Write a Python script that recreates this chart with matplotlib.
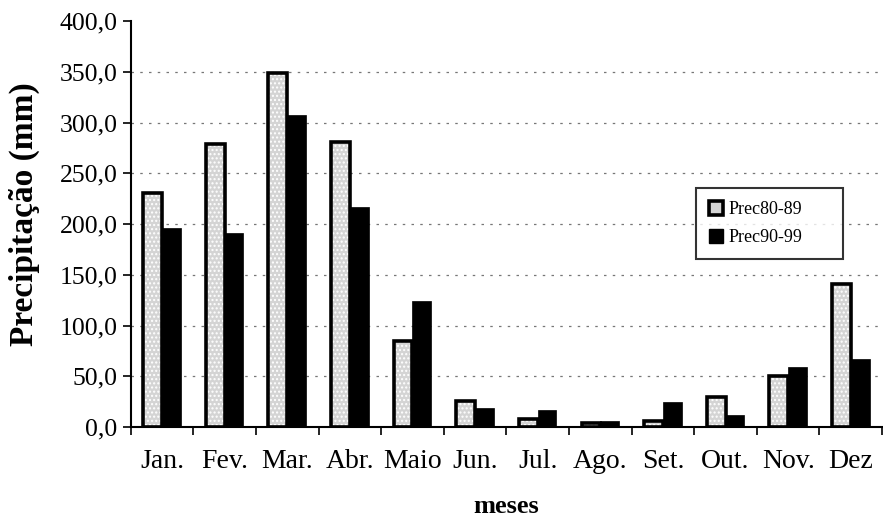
import numpy as np
import matplotlib.pyplot as plt
from matplotlib.patches import Patch

meses = ['Jan.', 'Fev.', 'Mar.', 'Abr.', 'Maio', 'Jun.', 'Jul.', 'Ago.', 'Set.', 'Out.', 'Nov.', 'Dez']
prec80_89 = [231, 279, 349, 281, 85, 26, 8, 4, 6, 30, 50, 141]
prec90_99 = [196, 191, 308, 217, 124, 19, 17, 6, 25, 12, 59, 67]
yticks = [0, 50, 100, 150, 200, 250, 300, 350, 400]

plt.rcParams['font.family'] = ['Liberation Serif', 'DejaVu Serif']
plt.rcParams['hatch.linewidth'] = 1.0

fig = plt.figure(figsize=(8.83, 5.17), dpi=100)
ax = fig.add_axes([0.148, 0.174, 0.851, 0.785])

x = np.arange(len(meses))
w = 0.3

# dotted grid
for v in yticks[1:-1]:
    ax.axhline(v, color='#777777', lw=0.9, ls=(0, (2, 5)), zorder=0)

# Prec80-89: speckled grey fill with thick black border
ax.bar(x - w / 2, prec80_89, w, color='#d4d4d4', edgecolor='white',
       hatch='....', linewidth=0, zorder=2)
ax.bar(x - w / 2, prec80_89, w, fill=False, edgecolor='black',
       linewidth=2.6, zorder=3)
# Prec90-99: solid black
ax.bar(x + w / 2, prec90_99, w, color='black', edgecolor='black',
       linewidth=0.5, zorder=3)

ax.set_xlim(-0.5, len(meses) - 0.5)
ax.set_ylim(0, 400)
ax.set_yticks(yticks)
ax.set_yticklabels([f'{v:.1f}'.replace('.', ',') for v in yticks], fontsize=18.5)

ax.set_xticks(np.arange(-0.5, len(meses), 1.0))
ax.set_xticklabels([])
ax.set_xticks(x, minor=True)
ax.set_xticklabels(meses, minor=True, fontsize=20)
ax.tick_params(axis='x', which='major', direction='out', length=6, width=1.2)
ax.tick_params(axis='x', which='minor', length=0, pad=16)
ax.tick_params(axis='y', direction='out', length=6, width=1.2)

for s in ['top', 'right']:
    ax.spines[s].set_visible(False)
for s in ['left', 'bottom']:
    ax.spines[s].set_linewidth(1.5)

ax.set_ylabel('Precipitação (mm)', fontsize=24, fontweight='bold')
ax.yaxis.set_label_coords(-0.121, 0.525)
ax.set_xlabel('meses', fontsize=19, fontweight='bold', labelpad=15)

handles = [Patch(facecolor='#d4d4d4', edgecolor='black', linewidth=2.6),
           Patch(facecolor='black', edgecolor='black')]
leg = ax.legend(handles, ['Prec80-89', 'Prec90-99'], loc='upper left',
                bbox_to_anchor=(0.740, 0.431, 0.22, 0.18), mode='expand',
                fontsize=13, frameon=True,
                fancybox=False, edgecolor='black', handlelength=0.8,
                handleheight=0.8, handletextpad=0.3, labelspacing=0.6,
                borderpad=0.72)
leg.get_frame().set_linewidth(1.5)

fig.savefig('out.png', dpi=100)
